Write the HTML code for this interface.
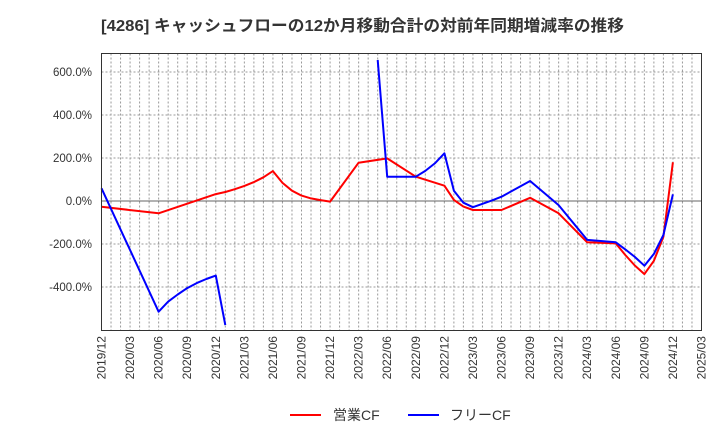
<!DOCTYPE html>
<html><head><meta charset="utf-8"><style>
body{margin:0;background:#fff;}
svg{display:block;font-family:"Liberation Sans","Noto Sans CJK JP",sans-serif;}
</style></head><body>
<svg id="c" width="720" height="440" xmlns="http://www.w3.org/2000/svg">
<text x="101" y="31" font-size="16" font-weight="bold" fill="#333" textLength="523" lengthAdjust="spacingAndGlyphs">[4286]  キャッシュフローの12か月移動合計の対前年同期増減率の推移</text>
<g id="grid"></g>
<g id="series"></g>
<rect x="101.5" y="53.5" width="600" height="277" fill="none" stroke="#333" stroke-width="1"/>
<g id="axes"></g>
<g>
<line x1="290" y1="415" x2="321" y2="415" stroke="#f00" stroke-width="2"/>
<text x="333" y="420" font-size="14" fill="#333">営業CF</text>
<line x1="408" y1="415" x2="439" y2="415" stroke="#00f" stroke-width="2"/>
<text x="450" y="420" font-size="14" fill="#333">フリーCF</text>
</g>
</svg>
<script>
// month index from 2019/12
const redMonths = [0,6,12,13,14,15,16,17,18,19,20,21,22,23,24,27,30,33,36,37,38,39,42,45,48,51,54,55,56,57,58,59,60];
const redValues = [-27,-57,32,42,55,70,88,110,139,84,48,25,12,4,-3,178,198,113,71,5,-26,-42,-42,15,-57,-192,-197,-251,-300,-340,-278,-166,180];
const blueMonths = [0,6,7,8,9,10,11,12,13,null,29,30,33,34,35,36,37,38,39,40,41,42,45,48,51,54,55,56,57,58,59,60];
const blueValues = [59,-515,-468,-435,-405,-382,-363,-347,-577,null,656,113,113,140,175,222,48,-8,-29,-13,3,20,93,-19,-181,-192,-225,-260,-301,-246,-158,31];
const yTicks = [600,400,200,0,-200,-400];
const xTickLabels = ["2019/12","2020/03","2020/06","2020/09","2020/12","2021/03","2021/06","2021/09","2021/12","2022/03","2022/06","2022/09","2022/12","2023/03","2023/06","2023/09","2023/12","2024/03","2024/06","2024/09","2024/12","2025/03"];

const NS="http://www.w3.org/2000/svg";
const L=101.5,R=701.5,T=53.5,B=330.5,MW=600/63;
const xs=m=>L+m*MW;
const ys=v=>201-v*0.215;
function mk(tag,attrs,parent){const e=document.createElementNS(NS,tag);for(const k in attrs)e.setAttribute(k,attrs[k]);parent.appendChild(e);return e;}
const grid=document.getElementById('grid'),axes=document.getElementById('axes'),series=document.getElementById('series');
for(let m=1;m<63;m++){
 const g=mk('line',{x1:xs(m),x2:xs(m),y1:T,y2:B,stroke:'#999','stroke-width':1,'stroke-dasharray':'2,2'},grid);
 
 
}
yTicks.forEach(v=>{
 const y=ys(v);
 const g=mk('line',{x1:L,x2:R,y1:y,y2:y,stroke:v===0?'#666':'#999','stroke-width':1,'stroke-dasharray':v===0?'':'2,2'},grid);
 
 
 const t=mk('text',{x:92,y:y+4,'font-size':11.5,fill:'#333','text-anchor':'end'},axes);
 t.textContent=v.toFixed(1)+'%';
 
 
});
xTickLabels.forEach((s,i)=>{
 const x=xs(i*3);
 const t=mk('text',{x:0,y:0,'font-size':12,fill:'#333','text-anchor':'end',transform:`translate(${x+4},336) rotate(-90)`},axes);
 t.textContent=s;
 
 
});
function draw(ms,vs,color,name){
 let d='',pen=false;
 for(let i=0;i<ms.length;i++){
  if(ms[i]===null||vs[i]===null){pen=false;continue;}
  d+=(pen?'L':'M')+xs(ms[i]).toFixed(1)+','+ys(vs[i]).toFixed(1);pen=true;
 }
 const p=mk('path',{d:d,fill:'none',stroke:color,'stroke-width':2,'stroke-linejoin':'round'},series);
 
 
}
draw(redMonths,redValues,'#f00','operating-cf-line');
draw(blueMonths,blueValues,'#00f','free-cf-line');
</script>
</body></html>
